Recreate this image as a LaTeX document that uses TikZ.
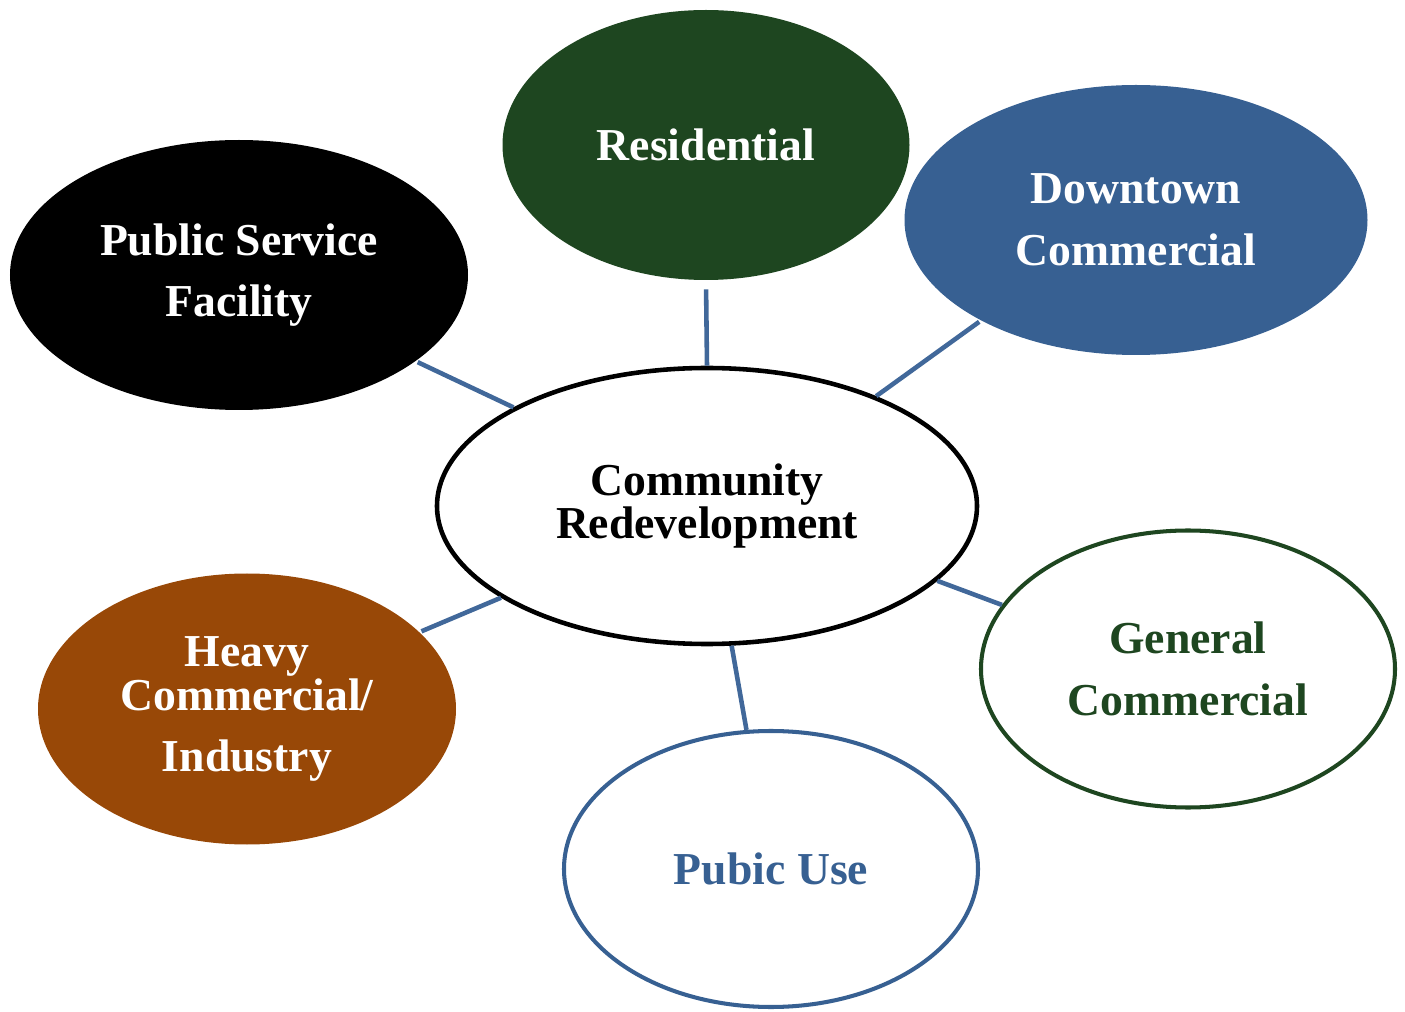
\documentclass[tikz,border=0pt]{standalone}
\usepackage{fontspec}
\setmainfont{Liberation Serif}
\usetikzlibrary{shapes.geometric}
\definecolor{resgreen}{HTML}{1E4620}
\definecolor{dtblue}{HTML}{376092}
\definecolor{hcbrown}{HTML}{984807}
\definecolor{linkblue}{HTML}{41689A}

\begin{document}
\begin{tikzpicture}[
  line width=2.6pt,
  zone/.style={ellipse,inner sep=0,align=center,font=\bfseries\fontsize{26}{35}\selectfont},
  filled/.style={zone,fill=#1,text=white},
  ringed/.style={zone,draw=#1,line width=2.3pt,fill=white,text=#1},
  link/.style={draw=linkblue}
  ]

  \useasboundingbox (0, 0) rectangle (28.1, 20.22);

  \node [zone,draw=black,fill=white,minimum width=10.8cm,minimum height=5.52cm,
    font=\bfseries\fontsize{26}{25}\selectfont] (cr) at (14.14, 10.1) {Community\\Redevelopment};

  \node [filled=resgreen,minimum width=8.14cm,minimum height=5.4cm] (res) at (14.12, 17.32) {Residential};
  \node [filled=dtblue,minimum width=9.26cm,minimum height=5.4cm] (dtc) at (22.72, 15.82) {Downtown\\Commercial};
  \node [filled=black,minimum width=9.16cm,minimum height=5.4cm] (psf) at (4.78, 14.72) {Public Service\\Facility};
  \node [filled=hcbrown,minimum width=8.36cm,minimum height=5.42cm] (hci) at (4.94, 6.04) {Heavy\\[-10pt]Commercial/\\Industry};
  \node [ringed=dtblue,minimum width=8.28cm,minimum height=5.52cm] (pu) at (15.42, 2.84) {Pubic Use};
  \node [ringed=resgreen,minimum width=8.28cm,minimum height=5.54cm] (gc) at (23.76, 6.84) {General\\Commercial};

  % spokes
  \draw[link,shorten <=0.14cm] (res.south) -- (cr.north);
  \draw[link] (dtc.213.9) -- (cr.33.5);
  \draw[link] (psf.-26.6) -- (cr.153.6);
  \draw[link] (hci.24) -- (cr.204);
  \draw[link] (pu.100.3) -- (cr.-80.1);
  \draw[link] (gc.161.3) -- (cr.-18.9);

\end{tikzpicture}
\end{document}
